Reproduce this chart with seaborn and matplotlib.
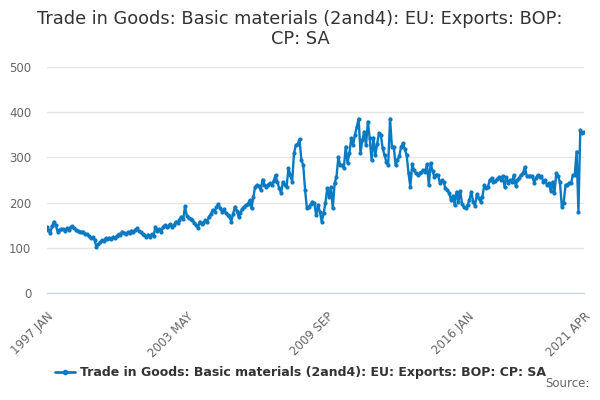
import numpy as np
import pandas as pd
import seaborn as sns
import matplotlib.pyplot as plt
from matplotlib.lines import Line2D

# monthly values, 1997 JAN .. 2021 APR
y1997 = [147, 140, 132, 148, 158, 150, 136, 139, 142, 141, 137, 143]
y1998 = [140, 146, 148, 144, 140, 138, 135, 136, 134, 131, 130, 126]
y1999 = [121, 124, 118, 102, 108, 112, 117, 115, 121, 119, 122, 120]
y2000 = [124, 122, 126, 130, 128, 136, 133, 130, 135, 132, 138, 136]
y2001 = [140, 143, 137, 134, 130, 128, 125, 129, 124, 130, 126, 147]
y2002 = [138, 142, 135, 145, 150, 146, 148, 152, 147, 150, 158, 155]
y2003 = [162, 169, 163, 192, 170, 165, 163, 161, 155, 150, 144, 158]
y2004 = [152, 155, 161, 158, 169, 175, 184, 180, 190, 197, 188, 180]
y2005 = [185, 178, 173, 170, 158, 175, 191, 182, 169, 178, 186, 191]
y2006 = [194, 197, 205, 187, 213, 235, 239, 236, 228, 251, 240, 235]
y2007 = [240, 243, 239, 248, 261, 245, 232, 221, 246, 240, 235, 276]
y2008 = [262, 246, 309, 327, 330, 340, 294, 283, 228, 187, 191, 196]
y2009 = [202, 199, 172, 195, 180, 158, 176, 199, 232, 213, 235, 187]
y2010 = [243, 257, 300, 283, 283, 276, 324, 288, 310, 342, 327, 350]
y2011 = [368, 386, 309, 338, 357, 327, 379, 342, 294, 344, 305, 330]
y2012 = [353, 350, 320, 305, 290, 283, 386, 324, 324, 283, 295, 302]
y2013 = [324, 331, 318, 305, 265, 235, 285, 272, 265, 261, 265, 268]
y2014 = [272, 268, 285, 239, 288, 270, 257, 262, 261, 243, 250, 245]
y2015 = [232, 228, 221, 206, 215, 195, 224, 202, 226, 197, 190, 187]
y2016 = [195, 206, 224, 202, 193, 219, 210, 202, 213, 239, 232, 235]
y2017 = [250, 254, 245, 248, 252, 257, 250, 259, 235, 256, 244, 250]
y2018 = [246, 261, 237, 250, 255, 262, 265, 279, 259, 258, 259, 259]
y2019 = [244, 255, 261, 257, 259, 246, 250, 239, 243, 226, 246, 221]
y2020 = [265, 259, 245, 191, 199, 239, 240, 244, 243, 261, 261, 313]
y2021 = [180, 361, 353, 357]

values = (y1997 + y1998 + y1999 + y2000 + y2001 + y2002 + y2003 + y2004
          + y2005 + y2006 + y2007 + y2008 + y2009 + y2010 + y2011 + y2012
          + y2013 + y2014 + y2015 + y2016 + y2017 + y2018 + y2019 + y2020
          + y2021)

months = ['JAN', 'FEB', 'MAR', 'APR', 'MAY', 'JUN',
          'JUL', 'AUG', 'SEP', 'OCT', 'NOV', 'DEC']
dates = [f'{1997 + i // 12} {months[i % 12]}' for i in range(len(values))]
shown_labels = ['1997 JAN', '2003 MAY', '2009 SEP', '2016 JAN', '2021 APR']

series_name = 'Trade in Goods: Basic materials (2and4): EU: Exports: BOP: CP: SA'
title = 'Trade in Goods: Basic materials (2and4): EU: Exports: BOP:\nCP: SA'

df = pd.DataFrame({'idx': np.arange(len(values)), 'value': values, 'date': dates})

sns.set_style('white')
plt.rcParams['font.family'] = ['DejaVu Sans']

line_col = '#0a7bc2'
fig = plt.figure(figsize=(6, 4), dpi=100)
ax = fig.add_axes([0.0775, 0.2675, 0.8958, 0.565])

sns.lineplot(data=df, x='idx', y='value', ax=ax, color=line_col, linewidth=1.7,
             marker='o', markersize=3, markeredgewidth=0, legend=False)

ax.set_ylim(0, 500)
ax.set_xlim(0, len(values) - 1)
ax.set_yticks(range(0, 501, 100))
ax.yaxis.grid(True, color='#e6e6e6', linewidth=1)
ax.xaxis.grid(False)
for s in ['top', 'right', 'left']:
    ax.spines[s].set_visible(False)
ax.spines['bottom'].set_color('#ccd6eb')
ax.spines['bottom'].set_linewidth(1)

tick_pos = list(range(0, len(values), 19)) + [len(values) - 1]
ax.set_xticks(tick_pos)
ax.set_xticklabels([dates[p] if dates[p] in shown_labels else '' for p in tick_pos],
                   rotation=45, ha='right', rotation_mode='anchor',
                   fontsize=8.5, color='#666666')
ax.tick_params(axis='x', length=9, color='#ccd6eb', width=1, pad=3)
ax.tick_params(axis='y', length=0, labelsize=8.5, labelcolor='#666666', pad=11)
ax.set_xlabel('')
ax.set_ylabel('')

fig.suptitle(title, x=0.5, y=0.975, fontsize=12.8, color='#333333', va='top',
             linespacing=1.15)

handle = Line2D([0], [0], color=line_col, linewidth=2, marker='o', markersize=3)
fig.legend([handle], [series_name], loc='center', bbox_to_anchor=(0.5, 0.068),
           frameon=False, handlelength=1.6, handletextpad=0.4,
           prop={'weight': 'bold', 'size': 9})
for t in fig.legends[0].get_texts():
    t.set_color('#333333')

fig.text(0.982, 0.025, 'Source:', ha='right', va='bottom', fontsize=8.5, color='#666666')

fig.savefig('out.png', dpi=100)
